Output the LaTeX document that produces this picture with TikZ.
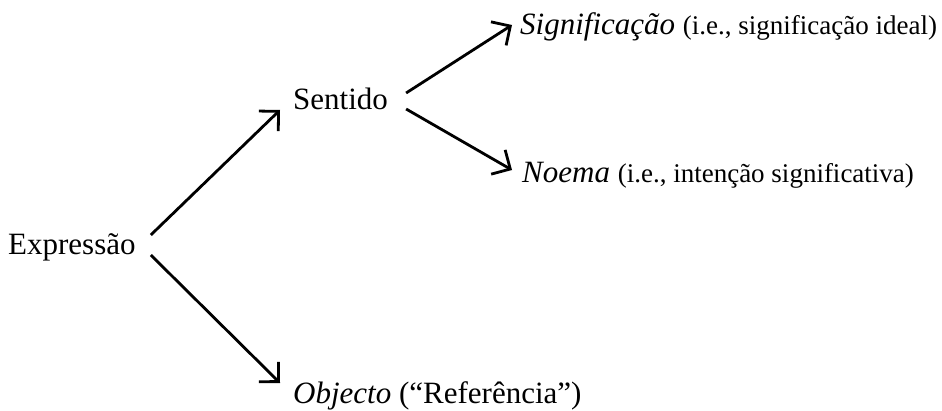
\documentclass[tikz,border=0pt]{standalone}
\usepackage{fontspec}
\setmainfont{Liberation Serif}
\usetikzlibrary{arrows.meta}

\begin{document}
\begin{tikzpicture}[x=1pt,y=1pt,
    lbl/.style={inner sep=0pt,anchor=base west,font=\fontsize{31}{37}\selectfont},
    arr/.style={line width=2.8pt,-{Straight Barb[length=14pt,width=28pt,line width=2.8pt]}}]
      \useasboundingbox (0,0) rectangle (942,410);

      \newcommand\sm[1]{{\fontsize{27}{32}\selectfont #1}}

      \node[lbl] (expr) at (8,155) {Expressão};
      \node[lbl] (sent) at (293,300) {Sentido};
      \node[lbl] (obj) at (293,7) {\textit{Objecto} (“Referência”)};
      \node[lbl] (sig) at (520,375) {\textit{Significação} \sm{(i.e., significação ideal)}};
      \node[lbl] (noema) at (522,227) {\textit{Noema} \sm{(i.e., intenção significativa)}};

      \draw[arr] ([shift={(15,20)}]expr.base east) -- ([shift={(-13,0)}]sent.base west);
      \draw[arr] ([shift={(15,0)}]expr.base east) -- ([shift={(-13,20)}]obj.base west);
      \draw[arr] ([shift={(18,17)}]sent.base east) -- ([shift={(-8,10)}]sig.base west);
      \draw[arr] ([shift={(18,1)}]sent.base east) -- ([shift={(-10,13)}]noema.base west);
    \end{tikzpicture}
\end{document}
